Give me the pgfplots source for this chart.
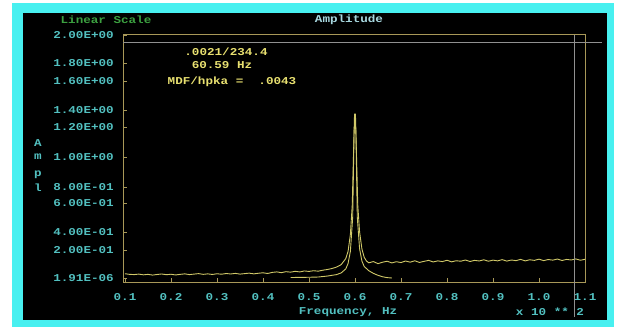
\documentclass[border=0pt]{standalone}
\usepackage{pgfplots}
\pgfplotsset{compat=1.18}
\usepackage{fontspec}
\newfontfamily\dos[FakeStretch=1.2]{Liberation Mono Bold}
\definecolor{cyanb}{HTML}{48F0F0}
\definecolor{lblcyan}{HTML}{52C0C0}
\definecolor{lingreen}{HTML}{3CA040}
\definecolor{ampcol}{HTML}{A8D8E0}
\definecolor{annoy}{HTML}{E8E070}
\definecolor{trace}{HTML}{D0C868}
\definecolor{frameY}{HTML}{A89858}
\definecolor{curs}{HTML}{909090}
\pgfplotstableread{
x y
0.10 0.035
0.11 0.030
0.12 0.028
0.13 0.032
0.14 0.026
0.15 0.030
0.16 0.024
0.17 0.029
0.18 0.033
0.19 0.027
0.20 0.031
0.21 0.025
0.22 0.030
0.23 0.034
0.24 0.028
0.25 0.032
0.26 0.036
0.27 0.030
0.28 0.034
0.29 0.029
0.30 0.035
0.31 0.031
0.32 0.037
0.33 0.033
0.34 0.038
0.35 0.032
0.36 0.036
0.37 0.040
0.38 0.034
0.39 0.039
0.40 0.043
0.41 0.037
0.42 0.046
0.43 0.050
0.44 0.044
0.45 0.052
0.46 0.048
0.47 0.055
0.48 0.050
0.49 0.058
0.50 0.054
0.51 0.060
0.52 0.056
0.53 0.064
0.54 0.070
0.55 0.078
0.56 0.090
0.57 0.110
0.58 0.160
0.585 0.22
0.59 0.36
0.594 0.60
0.597 1.05
0.599 1.35
0.601 1.35
0.603 1.05
0.606 0.60
0.61 0.38
0.615 0.24
0.62 0.17
0.625 0.14
0.63 0.125
0.64 0.135
0.65 0.118
0.66 0.130
0.67 0.138
0.68 0.124
0.69 0.134
0.70 0.127
0.71 0.140
0.72 0.130
0.73 0.142
0.74 0.128
0.75 0.137
0.76 0.145
0.77 0.132
0.78 0.141
0.79 0.135
0.80 0.146
0.81 0.133
0.82 0.142
0.83 0.138
0.84 0.148
0.85 0.136
0.86 0.145
0.87 0.140
0.88 0.150
0.89 0.138
0.90 0.147
0.91 0.141
0.92 0.151
0.93 0.139
0.94 0.148
0.95 0.143
0.96 0.153
0.97 0.141
0.98 0.150
0.99 0.145
1.00 0.155
1.01 0.143
1.02 0.152
1.03 0.147
1.04 0.156
1.05 0.144
1.06 0.153
1.07 0.148
1.08 0.157
1.09 0.146
1.10 0.154
}\traceA
\pgfplotstableread{
x y
0.46 0.004
0.50 0.006
0.52 0.008
0.54 0.016
0.56 0.028
0.57 0.042
0.58 0.075
0.585 0.12
0.59 0.22
0.595 0.50
0.598 1.20
0.600 1.32
0.602 1.20
0.605 0.50
0.61 0.24
0.615 0.14
0.62 0.095
0.63 0.060
0.64 0.038
0.65 0.022
0.66 0.010
0.67 0.003
0.68 0.000
}\traceB
\begin{document}
\begin{tikzpicture}[x=1pt,y=1pt]
\useasboundingbox (0,0) rectangle (620,327);
\fill[white] (0,0) rectangle (620,327);
\fill[cyanb] (12,0) rectangle (614,324);
\fill[black] (23,7) rectangle (607,314);
\begin{axis}[
  at={(123pt,45pt)}, anchor=south west,
  scale only axis, width=462pt, height=247pt,
  xmin=0.0957, xmax=1.1, ymin=-0.033, ymax=2.0,
  clip=false,
  axis line style={draw=frameY, line width=1pt},
  tick align=inside, major tick length=4pt,
  tick style={draw=frameY, line width=0.6pt},
  xtick={0.1,0.2,0.3,0.4,0.5,0.6,0.7,0.8,0.9,1.0,1.1},
  xticklabels={0.1,0.2,0.3,0.4,0.5,0.6,0.7,0.8,0.9,1.0,1.1},
  ytick={0,0.230,0.379,0.617,0.749,0.996,1.243,1.383,1.621,1.770,2.0},
  yticklabels={1.91E-06,2.00E-01,4.00E-01,6.00E-01,8.00E-01,1.00E+00,1.20E+00,1.40E+00,1.60E+00,1.80E+00,2.00E+00},
  xticklabel style={font=\dos\fontsize{10.5}{12}\selectfont, text=lblcyan, anchor=center, yshift=-15pt, inner sep=0pt},
  yticklabel style={font=\dos\fontsize{10.5}{12}\selectfont, text=lblcyan, anchor=east, xshift=-9pt, inner sep=0pt},
  xtick pos=bottom, ytick pos=left,
]
\addplot[trace, line width=0.9pt] table[x=x,y=y] {\traceB};
\addplot[trace, line width=0.9pt] table[x=x,y=y] {\traceA};
\draw[curs, line width=0.8pt] (axis cs:0.0957,1.942) -- (axis cs:1.137,1.942);
\draw[curs, line width=0.8pt] (axis cs:1.078,2.0) -- (axis cs:1.078,-0.321);
\end{axis}
\begin{scope}[every node/.style={font=\dos\fontsize{10.5}{12}\selectfont, inner sep=0pt}]
\node[text=lingreen] at (106,307) {Linear Scale};
\node[text=ampcol] at (349,307) {Amplitude};
\node[text=annoy] at (226,275) {.0021/234.4};
\node[text=annoy] at (222,262) {60.59 Hz};
\node[text=annoy] at (232,245) {MDF/hpka =\ \ .0043};
\node[text=lblcyan] at (38,184) {A};
\node[text=lblcyan] at (38,170) {m};
\node[text=lblcyan] at (38,152) {p};
\node[text=lblcyan] at (38,139) {l};
\node[text=lblcyan] at (348,15) {Frequency, Hz};
\node[text=lblcyan] at (550,15) {x 10 ** 2};
\end{scope}
\end{tikzpicture}
\end{document}
